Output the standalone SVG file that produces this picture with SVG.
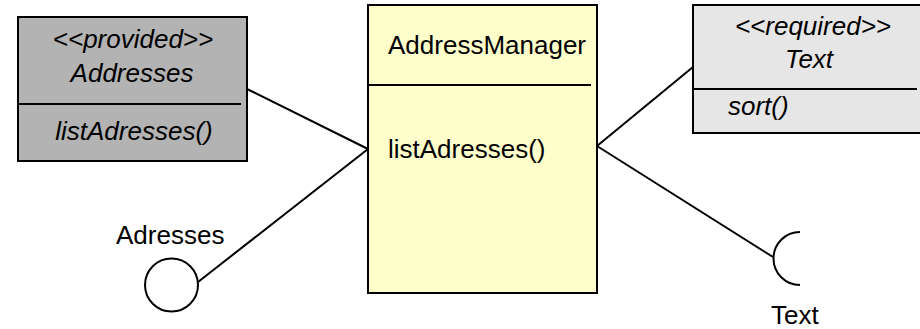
<svg xmlns="http://www.w3.org/2000/svg" width="920" height="329" viewBox="0 0 920 329">
<style>
.box{stroke:#000;stroke-width:2}
.div{stroke:#000;stroke-width:2}
.t{font-family:"Liberation Sans",Arial,sans-serif;font-size:26px;fill:#000}
.i{font-style:italic}
.c{text-anchor:middle}
.ln{stroke:#000;stroke-width:2;fill:none}
</style>
<rect width="920" height="329" fill="#fff"/>
<g id="connectors">
<line class="ln" x1="247" y1="89" x2="368" y2="149"/>
<line class="ln" x1="198" y1="282" x2="368" y2="149"/>
<line class="ln" x1="597" y1="146" x2="693" y2="67"/>
<line class="ln" x1="597" y1="146" x2="773" y2="257"/>
</g>
<g id="provided-addresses">
<rect class="box" x="18" y="17" width="229" height="144" fill="#b3b3b3"/>
<line class="div" x1="18" y1="104" x2="241" y2="104"/>
<text class="t i c" x="133" y="48">&lt;&lt;provided&gt;&gt;</text>
<text class="t i c" x="132" y="82">Addresses</text>
<text class="t i c" x="134" y="140">listAdresses()</text>
</g>
<g id="address-manager">
<rect class="box" x="368" y="5" width="229" height="288" fill="#ffffcc"/>
<line class="div" x1="368" y1="85" x2="591" y2="85"/>
<text class="t" x="388" y="54">AddressManager</text>
<text class="t" x="388" y="158">listAdresses()</text>
</g>
<g id="required-text">
<rect class="box" x="693" y="5" width="232" height="128" fill="#e6e6e6"/>
<line class="div" x1="693" y1="89" x2="917" y2="89"/>
<text class="t i c" x="813" y="35">&lt;&lt;required&gt;&gt;</text>
<text class="t i c" x="809" y="68">Text</text>
<text class="t i" x="728" y="115">sort()</text>
</g>
<g id="adresses-interface">
<circle class="ln" cx="171.5" cy="285" r="26.5"/>
<text class="t" x="116" y="244">Adresses</text>
</g>
<g id="text-socket">
<path class="ln" d="M800,232 A26.5,26.5 0 0 0 800,285"/>
<text class="t" x="771" y="324">Text</text>
</g>
</svg>
